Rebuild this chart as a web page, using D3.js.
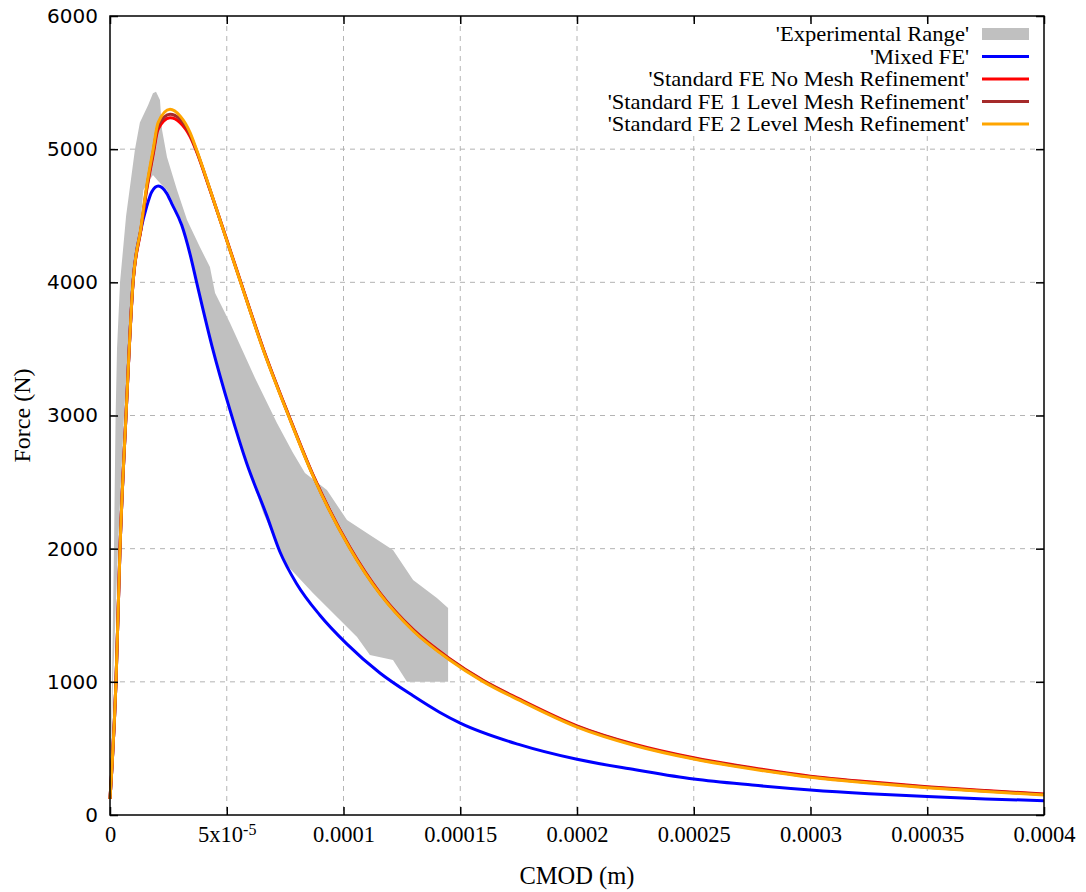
<!DOCTYPE html>
<html>
<head>
<meta charset="utf-8">
<script src="https://cdn.jsdelivr.net/npm/d3@7"></script>
<style>
body { margin: 0; background: #fff; }
text { font-family: "Liberation Serif", "Times New Roman", serif; fill: #000; }
</style>
</head>
<body>
<div id="chart"></div>
<script>
/*
#################################################
SECTION 1: DATA (CMOD in m, force in N)
#################################################
*/
// Experimental range: upper and lower envelope
var expUpperCmod = [0, 8.6e-7, 1.7e-6, 2.4e-6, 3.0e-6, 4.3e-6, 6.9e-6, 1.07e-5, 1.28e-5, 1.63e-5, 1.84e-5, 1.97e-5, 2.14e-5, 2.23e-5, 2.44e-5, 2.87e-5, 3.30e-5, 3.85e-5, 4.28e-5, 4.50e-5, 5.14e-5, 6.21e-5, 7.15e-5, 7.84e-5, 8.35e-5, 9.29e-5, 1.015e-4, 1.10e-4, 1.212e-4, 1.298e-4, 1.40e-4, 1.448e-4]
var expUpperForce = [110, 1000, 2000, 3000, 3500, 4000, 4500, 5000, 5200, 5330, 5420, 5431, 5370, 5144, 4941, 4693, 4468, 4265, 4115, 3920, 3694, 3281, 2944, 2718, 2568, 2440, 2215, 2118, 1990, 1765, 1629, 1554]
var expLowerCmod = [0, 1.3e-6, 3.4e-6, 6.0e-6, 9.0e-6, 1.28e-5, 1.43e-5, 1.84e-5, 2.07e-5, 2.43e-5, 2.64e-5, 3.07e-5, 3.43e-5, 3.71e-5, 4.37e-5, 4.84e-5, 5.85e-5, 6.57e-5, 7.57e-5, 8.69e-5, 9.55e-5, 1.058e-4, 1.113e-4, 1.212e-4, 1.272e-4, 1.448e-4]
var expLowerForce = [110, 1000, 2000, 3000, 3867, 4393, 4693, 4806, 4760, 4693, 4620, 4460, 4210, 4010, 3500, 3191, 2641, 2266, 1877, 1667, 1517, 1337, 1201, 1164, 1000, 1000]

// Mixed FE
var mixedCmod = [0, 2.57e-6, 4.28e-6, 6.85e-6, 9.85e-6, 1.33e-5, 1.57e-5, 1.79e-5, 2.07e-5, 2.43e-5, 2.64e-5, 3.07e-5, 3.43e-5, 3.71e-5, 4.37e-5, 5.14e-5, 5.85e-5, 6.71e-5, 7.28e-5, 8.0e-5, 8.99e-5, 1.014e-4, 1.156e-4, 1.298e-4, 1.413e-4, 1.5e-4, 1.75e-4, 2.0e-4, 2.25e-4, 2.5e-4, 2.75e-4, 3.0e-4, 3.25e-4, 3.5e-4, 3.75e-4, 4.0e-4]
var mixedForce = [120, 1000, 2000, 3000, 4000, 4400, 4568, 4680, 4723, 4668, 4593, 4430, 4210, 4000, 3520, 3040, 2643, 2250, 1975, 1735, 1500, 1285, 1066, 895, 770, 690, 530, 418, 340, 270, 225, 188, 160, 138, 121, 107]

// Standard FE runs (same CMOD samples)
var standardCmod = [0, 2.57e-6, 4.28e-6, 6.85e-6, 9.85e-6, 1.33e-5, 1.55e-5, 1.85e-5, 2.06e-5, 2.57e-5, 3.0e-5, 3.43e-5, 3.70e-5, 4.28e-5, 4.97e-5, 5.67e-5, 6.57e-5, 7.64e-5, 8.71e-5, 1.028e-4, 1.156e-4, 1.30e-4, 1.45e-4, 1.6e-4, 1.75e-4, 2.0e-4, 2.25e-4, 2.5e-4, 2.75e-4, 3.0e-4, 3.25e-4, 3.5e-4, 3.75e-4, 4.0e-4]
var noRefineForce = [120, 1000, 2000, 3000, 3990, 4400, 4670, 4960, 5150, 5235, 5200, 5095, 4985, 4695, 4335, 3965, 3498, 3008, 2548, 2008, 1668, 1390, 1180, 1010, 874, 670, 530, 430, 355, 292, 249, 213, 184, 158]
var level1Force = [120, 1000, 2000, 3000, 3995, 4408, 4685, 4980, 5175, 5262, 5225, 5110, 4992, 4697, 4332, 3962, 3494, 3004, 2544, 2004, 1664, 1385, 1175, 1005, 869, 665, 525, 425, 350, 288, 245, 209, 180, 154]
var level2Force = [120, 1000, 2000, 3000, 4000, 4417, 4700, 5000, 5200, 5300, 5250, 5125, 5000, 4700, 4330, 3960, 3490, 3000, 2540, 2000, 1660, 1380, 1170, 1000, 864, 660, 520, 420, 345, 283, 240, 205, 176, 150]

// Legend and ticks
var seriesNames = ["'Experimental Range'", "'Mixed FE'", "'Standard FE No Mesh Refinement'", "'Standard FE 1 Level Mesh Refinement'", "'Standard FE 2 Level Mesh Refinement'"]
var seriesColors = ["#c0c0c0", "#0000ff", "#ff0000", "#a52a2a", "#ffa500"]
var xTicks = [0, 5e-5, 1e-4, 1.5e-4, 2e-4, 2.5e-4, 3e-4, 3.5e-4, 4e-4]
var xTickLabels = ["0", "5x10^-5", "0.0001", "0.00015", "0.0002", "0.00025", "0.0003", "0.00035", "0.0004"]
var yTicks = [0, 1000, 2000, 3000, 4000, 5000, 6000]

//Zip two arrays into points
function zip(xs, ys) {
	return xs.map(function(x, i) {return {cmod: x, force: ys[i]};})
}

/*
#################################################
SECTION 2: DRAWING AREA AND SCALES
#################################################
*/
var margin = {top: 16, right: 42, bottom: 77, left: 110},
		width = 1086 - margin.left - margin.right,
		height = 892 - margin.top - margin.bottom;

var svg = d3.select('#chart').append('svg')
		.attr('width', 1086)
		.attr('height', 892)

var plot = svg.append('g')
		.attr('transform', 'translate(' + margin.left + ',' + margin.top + ')');

var xScale = d3.scaleLinear().domain([0, 4e-4]).range([0, width]);
var yScale = d3.scaleLinear().domain([0, 6000]).range([height, 0]);

//Grid
plot.append('g').selectAll('line').data(xTicks.slice(1, -1))
	.enter().append('line')
		.attr('x1', function(d) {return xScale(d);})
		.attr('x2', function(d) {return xScale(d);})
		.attr('y1', 0).attr('y2', height)
		.style('stroke', '#b4b4b4').style('stroke-dasharray', '5,5')
plot.append('g').selectAll('line').data(yTicks.slice(1, -1))
	.enter().append('line')
		.attr('y1', function(d) {return yScale(d);})
		.attr('y2', function(d) {return yScale(d);})
		.attr('x1', 0).attr('x2', width)
		.style('stroke', '#b4b4b4').style('stroke-dasharray', '5,5')

/*
#################################################
SECTION 3: SERIES
#################################################
*/
var line = d3.line()
		.x(function(d) {return xScale(d.cmod);})
		.y(function(d) {return yScale(d.force);})
		.curve(d3.curveMonotoneX)

//Experimental band: upper envelope forward, lower envelope back
var band = zip(expUpperCmod, expUpperForce).concat(zip(expLowerCmod, expLowerForce).reverse())
plot.append('path')
		.attr('d', d3.line()
			.x(function(d) {return xScale(d.cmod);})
			.y(function(d) {return yScale(d.force);})
			.curve(d3.curveLinearClosed)(band))
		.style('fill', seriesColors[0])

var curves = [
	zip(mixedCmod, mixedForce),
	zip(standardCmod, noRefineForce),
	zip(standardCmod, level1Force),
	zip(standardCmod, level2Force)
]
curves.forEach(function(c, i) {
	plot.append('path')
			.attr('d', line(c))
			.style('fill', 'none')
			.style('stroke', seriesColors[i + 1])
			.style('stroke-width', 3)
			.style('stroke-linejoin', 'round')
})

/*
#################################################
SECTION 4: LEGEND
#################################################
*/
var legend = plot.append('g')
legend.append('rect')
		.attr('x', 600 - margin.left).attr('y', 24 - margin.top)
		.attr('width', 440).attr('height', 110)
		.style('fill', '#fff')

var rowY = function(i) {return 34 - margin.top + i * 22.5;}
seriesNames.forEach(function(name, i) {
	legend.append('text')
			.attr('transform', 'translate(' + (969 - margin.left) + ',' + rowY(i) + ') scale(1.13,1)')
			.attr('dy', '0.35em')
			.attr('text-anchor', 'end')
			.style('font-size', '20px')
			.text(name)
	if (i === 0) {
		legend.append('rect')
				.attr('x', 982 - margin.left).attr('y', rowY(i) - 6)
				.attr('width', 47).attr('height', 12)
				.style('fill', seriesColors[i])
	} else {
		legend.append('line')
				.attr('x1', 982 - margin.left).attr('x2', 1029 - margin.left)
				.attr('y1', rowY(i)).attr('y2', rowY(i))
				.style('stroke', seriesColors[i]).style('stroke-width', 3)
	}
})

/*
#################################################
SECTION 5: AXES, BORDER AND LABELS
#################################################
*/
var xAxis = d3.axisBottom(xScale).tickValues(xTicks).tickSizeInner(-8).tickSizeOuter(0).tickPadding(11)
		.tickFormat(function(d, i) {return xTickLabels[i];})
var yAxis = d3.axisLeft(yScale).tickValues(yTicks).tickSizeInner(-8).tickSizeOuter(0).tickPadding(12)
		.tickFormat(d3.format('d'))

var gx = plot.append('g').attr('transform', 'translate(0,' + height + ')').call(xAxis)
var gy = plot.append('g').call(yAxis)
plot.append('g').call(d3.axisTop(xScale).tickValues(xTicks).tickSizeInner(-8).tickSizeOuter(0).tickFormat(''))
plot.append('g').attr('transform', 'translate(' + width + ',0)')
		.call(d3.axisRight(yScale).tickValues(yTicks).tickSizeInner(-8).tickSizeOuter(0).tickFormat(''))

plot.selectAll('.domain').remove()
plot.selectAll('.tick line').style('stroke', '#000').style('stroke-width', 1.5)
gx.selectAll('.tick text').style('font-size', '22.5px').style('font-family', '"Liberation Serif", serif').style('fill', '#000')
gy.selectAll('.tick text').style('font-size', '20px').style('font-family', '"DejaVu Sans", sans-serif').style('fill', '#000')

//Superscript label for 5x10^-5
gx.selectAll('.tick text').each(function(d, i) {
	var label = xTickLabels[i]
	if (label.indexOf('^') > -1) {
		var parts = label.split('^')
		var t = d3.select(this).text('')
		t.append('tspan').text(parts[0])
		t.append('tspan').attr('dy', '-0.45em').style('font-size', '16px').text(parts[1])
	}
})

plot.append('rect')
		.attr('width', width).attr('height', height)
		.style('fill', 'none').style('stroke', '#000').style('stroke-width', 1.5)

svg.append('text')
		.attr('x', margin.left + width / 2).attr('y', 875)
		.attr('text-anchor', 'middle').attr('dy', '0.35em')
		.style('font-size', '24.5px')
		.text('CMOD (m)')
svg.append('text')
		.attr('transform', 'translate(22,' + (margin.top + height / 2) + ') rotate(-90)')
		.attr('text-anchor', 'middle').attr('dy', '0.35em')
		.style('font-size', '24px')
		.text('Force (N)')
</script>
</body>
</html>
